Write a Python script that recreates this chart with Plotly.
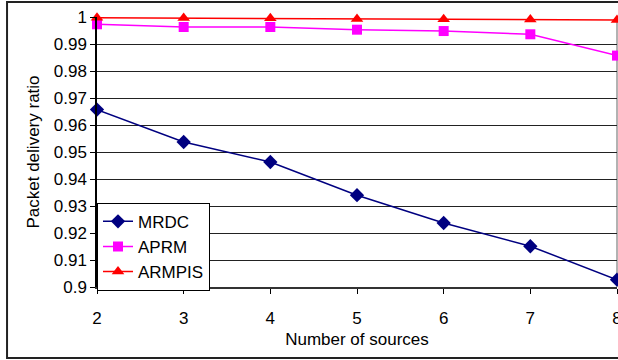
import plotly.graph_objects as go

sources = [2, 3, 4, 5, 6, 7, 8]
mrdc = [0.9657, 0.9537, 0.9463, 0.9340, 0.9237, 0.9151, 0.9027]
aprm = [0.9973, 0.9963, 0.9963, 0.9953, 0.9948, 0.9936, 0.9857]
armpis = [0.9997, 0.9996, 0.9995, 0.9993, 0.9992, 0.9991, 0.9989]
y_ticks = [0.9, 0.91, 0.92, 0.93, 0.94, 0.95, 0.96, 0.97, 0.98, 0.99, 1.0]
y_tick_text = ["0.9", "0.91", "0.92", "0.93", "0.94", "0.95", "0.96", "0.97", "0.98", "0.99", "1"]

FS = 17

fig = go.Figure()
fig.add_trace(go.Scatter(x=sources, y=mrdc, name="MRDC", mode="lines+markers",
                         line=dict(color="#000080", width=1.5),
                         marker=dict(symbol="diamond", size=11, color="#000080"),
                         legendgroup="a", cliponaxis=False))
fig.add_trace(go.Scatter(x=sources, y=aprm, name="APRM", mode="lines+markers",
                         line=dict(color="#FF00FF", width=1.5),
                         marker=dict(symbol="square", size=10, color="#FF00FF"),
                         legendgroup="b", cliponaxis=False))
fig.add_trace(go.Scatter(x=sources, y=armpis, name="ARMPIS", mode="lines+markers",
                         line=dict(color="#FF0000", width=1.5),
                         marker=dict(symbol="triangle-up", size=11, color="#FF0000"),
                         legendgroup="c", cliponaxis=False))

fig.update_layout(
    width=618, height=360,
    margin=dict(l=97, r=1, t=17, b=73, autoexpand=False),
    paper_bgcolor="white", plot_bgcolor="white",
    font=dict(family="Liberation Sans, Arial, sans-serif", size=FS, color="black"),
    showlegend=True,
    legend=dict(x=0, y=0.312, xanchor="left", yanchor="top",
                bordercolor="black", borderwidth=1, bgcolor="white",
                font=dict(size=FS), tracegroupgap=0, traceorder="grouped"),
    shapes=[
        dict(type="rect", xref="paper", yref="paper",
             x0=-0.173, x1=1.1, y0=-0.263, y1=1.056,
             line=dict(color="#222", width=2), fillcolor="rgba(0,0,0,0)",
             layer="below"),
        dict(type="line", xref="paper", yref="paper", x0=1, x1=1, y0=0, y1=1,
             line=dict(color="#999", width=1.5), layer="below"),
    ],
)
fig.update_xaxes(range=[2, 8], tickvals=sources, ticks="outside", ticklen=5,
                 tickcolor="black", showline=True, linecolor="#333", linewidth=2,
                 showgrid=False, zeroline=False, ticklabelstandoff=10,
                 ticklabeloverflow="allow", automargin=False,
                 title=dict(text="Number of sources", font=dict(size=FS), standoff=6),
                 tickfont=dict(size=FS))
fig.update_yaxes(range=[0.9, 1.0], tickvals=y_ticks, ticktext=y_tick_text,
                 ticks="outside", ticklen=5, tickcolor="black",
                 showline=True, linecolor="black", linewidth=1.5,
                 showgrid=True, gridcolor="#222", gridwidth=1, zeroline=False,
                 automargin=False,
                 title=dict(text="Packet delivery ratio", font=dict(size=FS), standoff=10),
                 tickfont=dict(size=FS))

fig.write_html("out.html", config={"displayModeBar": False},
               post_script="document.body.style.margin='0';document.body.style.overflow='hidden';document.documentElement.style.overflow='hidden';")
